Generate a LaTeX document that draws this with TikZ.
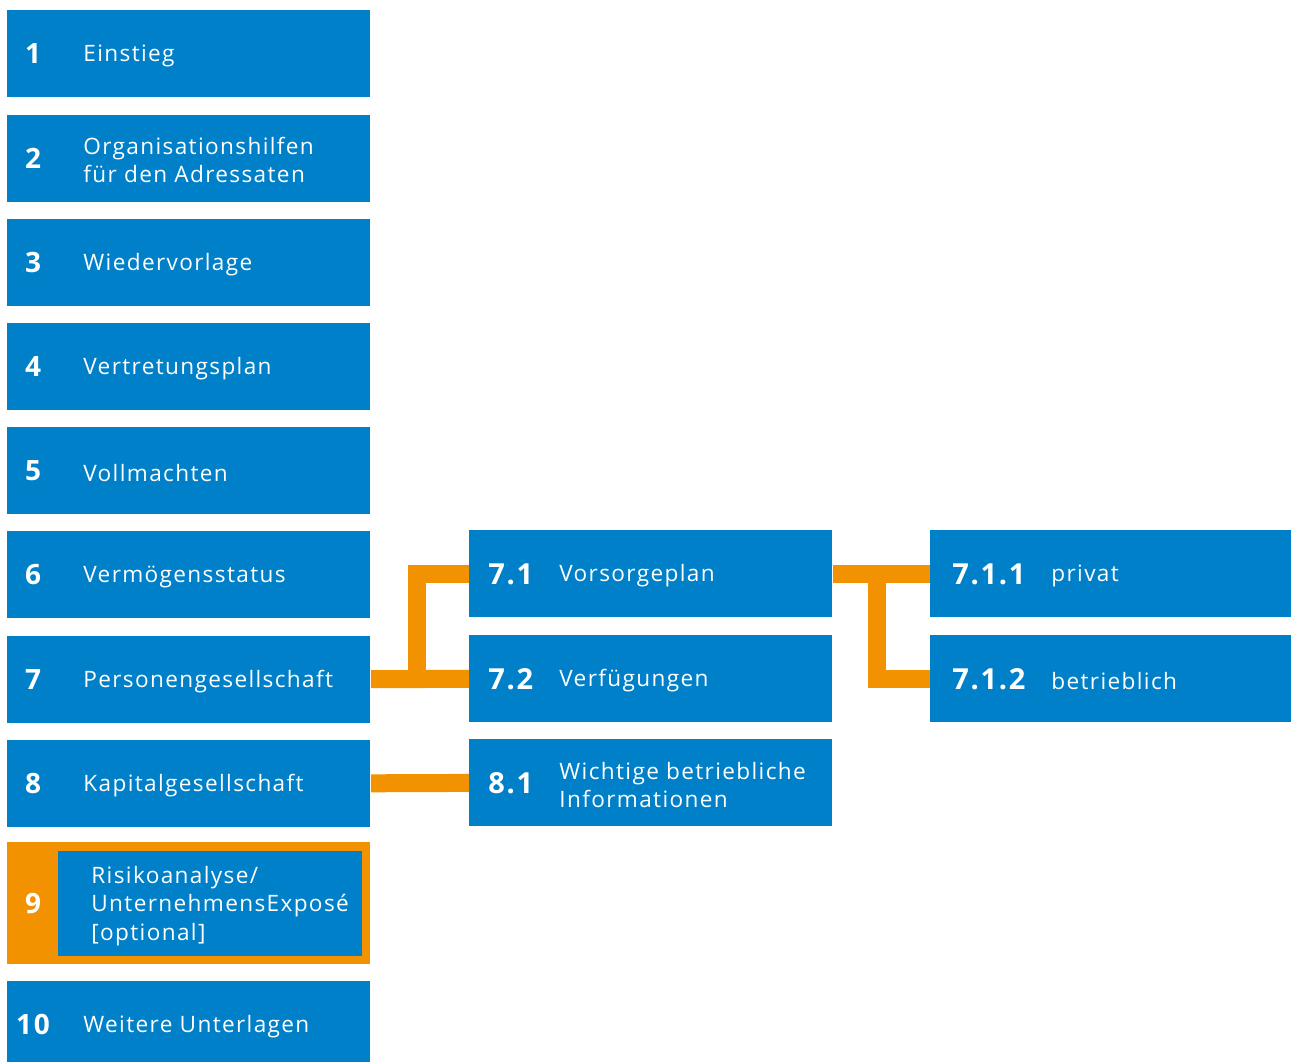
\documentclass[tikz,border=0pt]{standalone}
\usepackage{fontspec}
\setmainfont{Open Sans}[LetterSpace=6]
\usetikzlibrary{calc}
\definecolor{fraunhoferB}{RGB}{0,128,200}
\definecolor{fraunhoferO}{RGB}{243,146,0}
\tikzstyle{box}=[rectangle, fill=fraunhoferB, anchor=north west, minimum width=181.5pt, minimum height=43.5pt, inner sep=0pt]
\tikzstyle{num}=[anchor=center, text=white, inner sep=0pt, font=\fontsize{14}{16}\selectfont\bfseries]
\tikzstyle{subnum}=[anchor=west, text=white, inner sep=0pt, font=\fontsize{14.5}{16}\selectfont\bfseries]
\tikzstyle{txt}=[anchor=west, text=white, inner sep=0pt, yshift=-1pt, align=left, font=\fontsize{11.3}{14.3}\selectfont]
\tikzstyle{link}=[draw=fraunhoferO, line width=9pt, line join=miter]

\begin{document}
\begin{tikzpicture}[x=0.5pt, y=-0.5pt]
				\clip (0,0) rectangle (1291,1061);

				% main column
				\foreach \i/\t in {1/Einstieg, 2/{Organisationshilfen\\für den Adressaten}, 3/Wiedervorlage, 4/Vertretungsplan, 5/Vollmachten, 6/Vermögensstatus, 7/Personengesellschaft, 8/Kapitalgesellschaft}{
					\node[box] (b\i) at (7,{10+104.2*(\i-1)}) {};
					\node[num] (n\i) at ($(b\i.west)+(26,0)$) {\i};
					\node[txt] (t\i) at ($(b\i.west)+(76,0)$) {\t};
				}
				\node[box, fill=fraunhoferO, minimum height=61pt] (b9) at (7,842) {};
				\node[box, minimum width=152pt, minimum height=52.5pt] (b9i) at (58,851) {};
				\node[num] (n9) at ($(b9.west)+(26,0)$) {9};
				\node[txt] (t9) at ($(b9i.west)+(33,0)$) {Risikoanalyse/\\UnternehmensExposé\\{[}optional{]}};
				\node[box] (b10) at (7,981) {};
				\node[num] (n10) at ($(b10.west)+(26,0)$) {10};
				\node[txt] (t10) at ($(b10.west)+(76,0)$) {Weitere Unterlagen};

				% sub chapters
				\node[box] (b71) at (469,530) {};
				\node[box] (b72) at (469,635) {};
				\node[box] (b81) at (469,739) {};
				\node[box] (b711) at (930,530) {};
				\node[box] (b712) at (930,635) {};
				\foreach \b/\n/\t in {b71/7.1/Vorsorgeplan, b72/7.2/Verfügungen, b81/8.1/{Wichtige betriebliche\\Informationen}}{
					\node[subnum] at ($(\b.west)+(19,0)$) {\n};
					\node[txt] at ($(\b.west)+(90,0)$) {\t};
				}
				\foreach \b/\n/\t in {b711/7.1.1/privat, b712/7.1.2/betrieblich}{
					\node[subnum] at ($(\b.west)+(22,0)$) {\n};
					\node[txt] at ($(\b.west)+(121,0)$) {\t};
				}

				% connectors
				\coordinate (jl) at (416.5,678.6);
				\coordinate (jr) at (876.5,573.6);
				\draw[link] (b7.east) -- (b72.west);
				\draw[link] (jl) |- (b71.west);
				\draw[link] (b71.east) -- (b711.west);
				\draw[link] (jr) |- (b712.west);
				\draw[link] (b8.east) -- (b81.west);
			\end{tikzpicture}
\end{document}
